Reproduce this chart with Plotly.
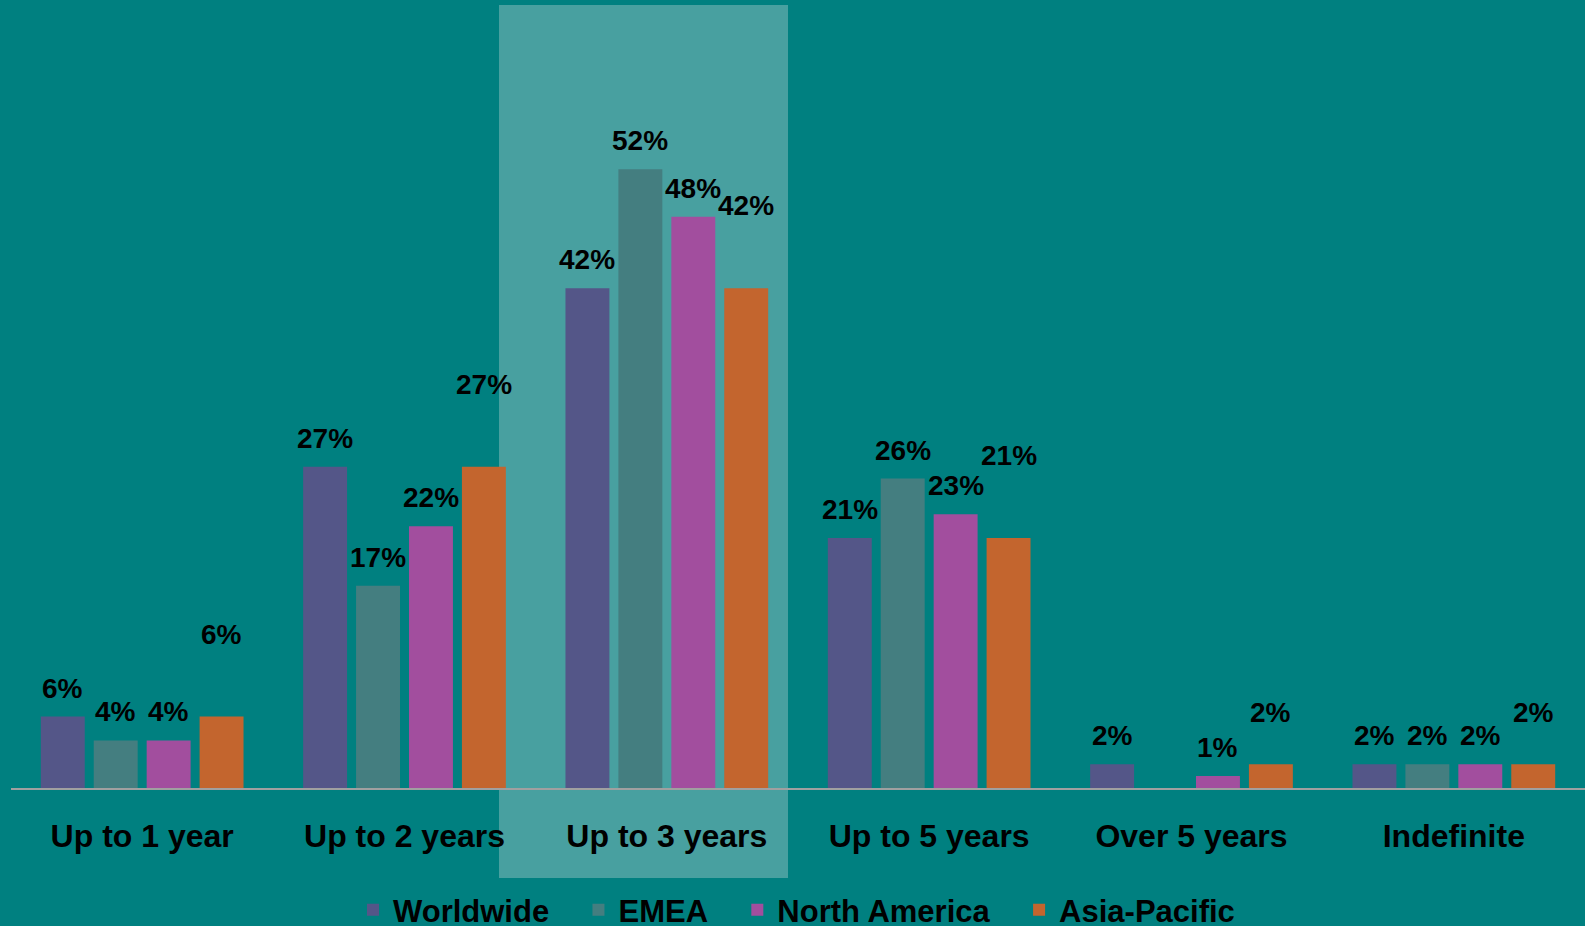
import plotly.graph_objects as go

categories = ["Up to 1 year", "Up to 2 years", "Up to 3 years", "Up to 5 years", "Over 5 years", "Indefinite"]
series_names = ["Worldwide", "EMEA", "North America", "Asia-Pacific"]
worldwide = [6, 27, 42, 21, 2, 2]
emea = [4, 17, 52, 26, 0, 2]
north_america = [4, 22, 48, 23, 1, 2]
asia_pacific = [6, 27, 42, 21, 2, 2]
# label text shown (EMEA has no label for "Over 5 years")
show_label = [
    [True] * 6,
    [True, True, True, True, False, True],
    [True] * 6,
    [True] * 6,
]
# extra upward lift of the Asia-Pacific labels (px), as in the original
apac_label_lift = [54, 54, 54, 54, 23, 23]

colors = ["#545688", "#447E80", "#A24E9E", "#C3652E"]
series = [worldwide, emea, north_america, asia_pacific]

FONT = "Liberation Sans, Arial"
W, H = 1585, 926
ML, MR, MT, MB = 11, 0, 5, 138
BARGAP, GROUPGAP = 0.193, 0.17
plot_w = W - ML - MR
plot_h = H - MT - MB
px_per_unit = 11.9
ymax = plot_h / px_per_unit
LEGEND_PAD = "\u2002\u2009\u200a"

fig = go.Figure()
for name, vals, col in zip(series_names, series, colors):
    fig.add_trace(go.Bar(name=name + LEGEND_PAD, x=categories, y=vals,
                         marker=dict(color=col, line=dict(width=0)),
                         hovertemplate=name + ": %{y}%<extra></extra>"))

cat_w = plot_w / len(categories)
slot = cat_w * (1 - BARGAP) / len(series)
annotations = []
for si, vals in enumerate(series):
    for ci, v in enumerate(vals):
        if not show_label[si][ci]:
            continue
        lift = 11 + (apac_label_lift[ci] if si == 3 else 0)
        annotations.append(dict(
            x=categories[ci], y=v, xref="x", yref="y", text=f"<b>{v}%</b>",
            showarrow=False, xanchor="center", yanchor="bottom",
            xshift=(si - 1.5) * slot, yshift=lift,
            font=dict(family=FONT, size=28, color="#000000"),
        ))

shapes = [dict(type="rect", xref="paper", yref="paper",
               x0=(499 - ML) / plot_w, x1=(788 - ML) / plot_w,
               y0=-(878 - (MT + plot_h)) / plot_h, y1=1,
               fillcolor="#48A0A0", line=dict(width=0), layer="below")]

fig.update_layout(
    width=W, height=H,
    margin=dict(l=ML, r=MR, t=MT, b=MB, autoexpand=False),
    paper_bgcolor="#008080", plot_bgcolor="rgba(0,0,0,0)",
    barmode="group", bargap=BARGAP, bargroupgap=GROUPGAP,
    font=dict(family=FONT, color="#000000"),
    showlegend=True,
    legend=dict(orientation="h", x=(367 - 14 - ML) / plot_w, xanchor="left",
                y=-0.156, yanchor="middle",
                font=dict(family=FONT, size=31, color="#000000", weight="bold"),
                bgcolor="rgba(0,0,0,0)"),
    annotations=annotations, shapes=shapes,
    xaxis=dict(showline=True, linecolor="#A0A0A0", linewidth=2, showgrid=False,
               ticks="", ticklabelstandoff=19,
               tickfont=dict(family=FONT, size=32, color="#000000", weight="bold")),
    yaxis=dict(range=[0, ymax], visible=False, showgrid=False, zeroline=False),
)

fig.write_html("out.html")
